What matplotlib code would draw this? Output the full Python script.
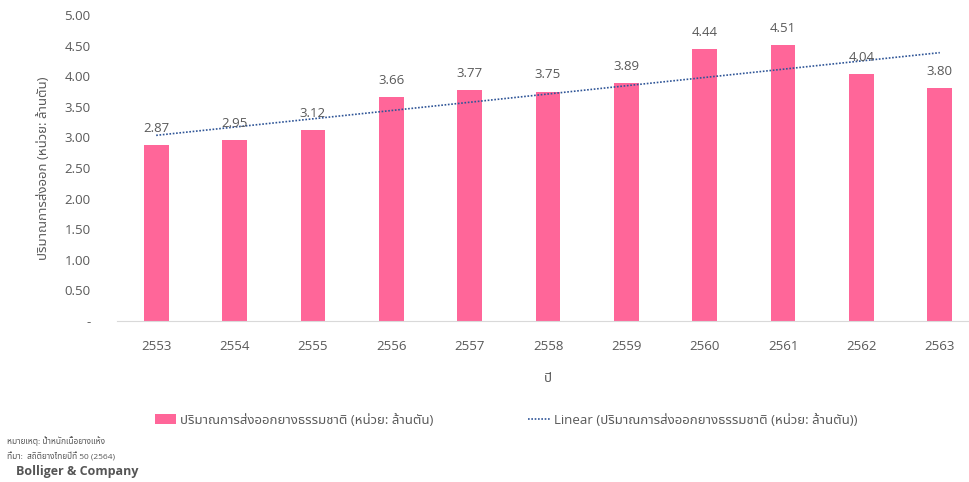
import matplotlib
matplotlib.use('Agg')
import matplotlib.pyplot as plt
from matplotlib import font_manager as fm
import numpy as np

# data
years = ['2553', '2554', '2555', '2556', '2557', '2558', '2559', '2560', '2561', '2562', '2563']
export = [2.87, 2.95, 3.12, 3.66, 3.77, 3.75, 3.89, 4.44, 4.51, 4.04, 3.80]
yticks = [0, 0.5, 1, 1.5, 2, 2.5, 3, 3.5, 4, 4.5, 5]
ytick_labels = ['-', '0.50', '1.00', '1.50', '2.00', '2.50', '3.00', '3.50', '4.00', '4.50', '5.00']

series_name = 'ปริมาณการส่งออกยางธรรมชาติ (หน่วย: ล้านตัน)'
ylabel = 'ปริมาณการส่งออก (หน่วย: ล้านตัน)'
xlabel = 'ปี'
note1 = 'หมายเหตุ: น้ำหนักเนื้อยางแห้ง'
note2 = 'ที่มา:  สถิติยางไทยปีที่ 50 (2564)'

# pick a thai font that is installed
installed = set(f.name for f in fm.fontManager.ttflist)
thai = 'DejaVu Sans'
for n in ['Noto Sans Thai', 'Noto Sans Thai UI', 'Sarabun', 'Anuphan', 'IBM Plex Sans Thai', 'Bai Jamjuree']:
    if n in installed:
        thai = n
        break
plt.rcParams['font.family'] = ['Open Sans', thai, 'DejaVu Sans']

grey = '#595959'
pink = '#FF6699'

fig = plt.figure(figsize=(9.69, 4.82), dpi=100)
ax = fig.add_axes([117/969, 1-321/482, 862/969, 306/482])

x = np.arange(len(years))
bars = ax.bar(x, export, width=0.315, color=pink, zorder=2)

# linear trendline
k, b = np.polyfit(x, export, 1)
line, = ax.plot(x, k*x + b, linestyle=(0, (1, 1)), color='#2F5597', linewidth=1.2, zorder=3)

for xi, v in zip(x, export):
    ax.annotate('%.2f' % v, (xi, v), xytext=(0, 12), textcoords='offset points',
                ha='center', va='center', fontsize=9.5, color=grey)

ax.set_xlim(-0.5, 10.5)
ax.set_ylim(0, 5)
ax.set_xticks(x)
ax.set_xticklabels(years)
ax.set_yticks(yticks)
ax.set_yticklabels(ytick_labels)
ax.tick_params(axis='both', length=0, labelsize=9.5, labelcolor=grey)
ax.tick_params(axis='y', pad=19)
ax.tick_params(axis='x', pad=14)
for s in ['top', 'right', 'left']:
    ax.spines[s].set_visible(False)
ax.spines['bottom'].set_color('#D9D9D9')

ax.set_ylabel(ylabel, fontsize=9.5, color=grey, labelpad=10)
ax.set_xlabel(xlabel, fontsize=9.5, color=grey, labelpad=13)

fig.legend([bars, line], [series_name, 'Linear (' + series_name + ')'],
           loc='center', bbox_to_anchor=(506/969, 1-420/482), ncol=2, frameon=False,
           fontsize=9.5, labelcolor=grey, handlelength=1.6, columnspacing=7.2, handletextpad=0.3)

fig.text(7/969, 1-441/482, note1, fontsize=6, color=grey, va='center')
fig.text(7/969, 1-457/482, note2, fontsize=6, color=grey, va='center')
fig.text(16/969, 1-472/482, 'Bolliger & Company', fontsize=9, color='#555555',
         fontweight='bold', va='center')

fig.savefig('out.png', dpi=100)
